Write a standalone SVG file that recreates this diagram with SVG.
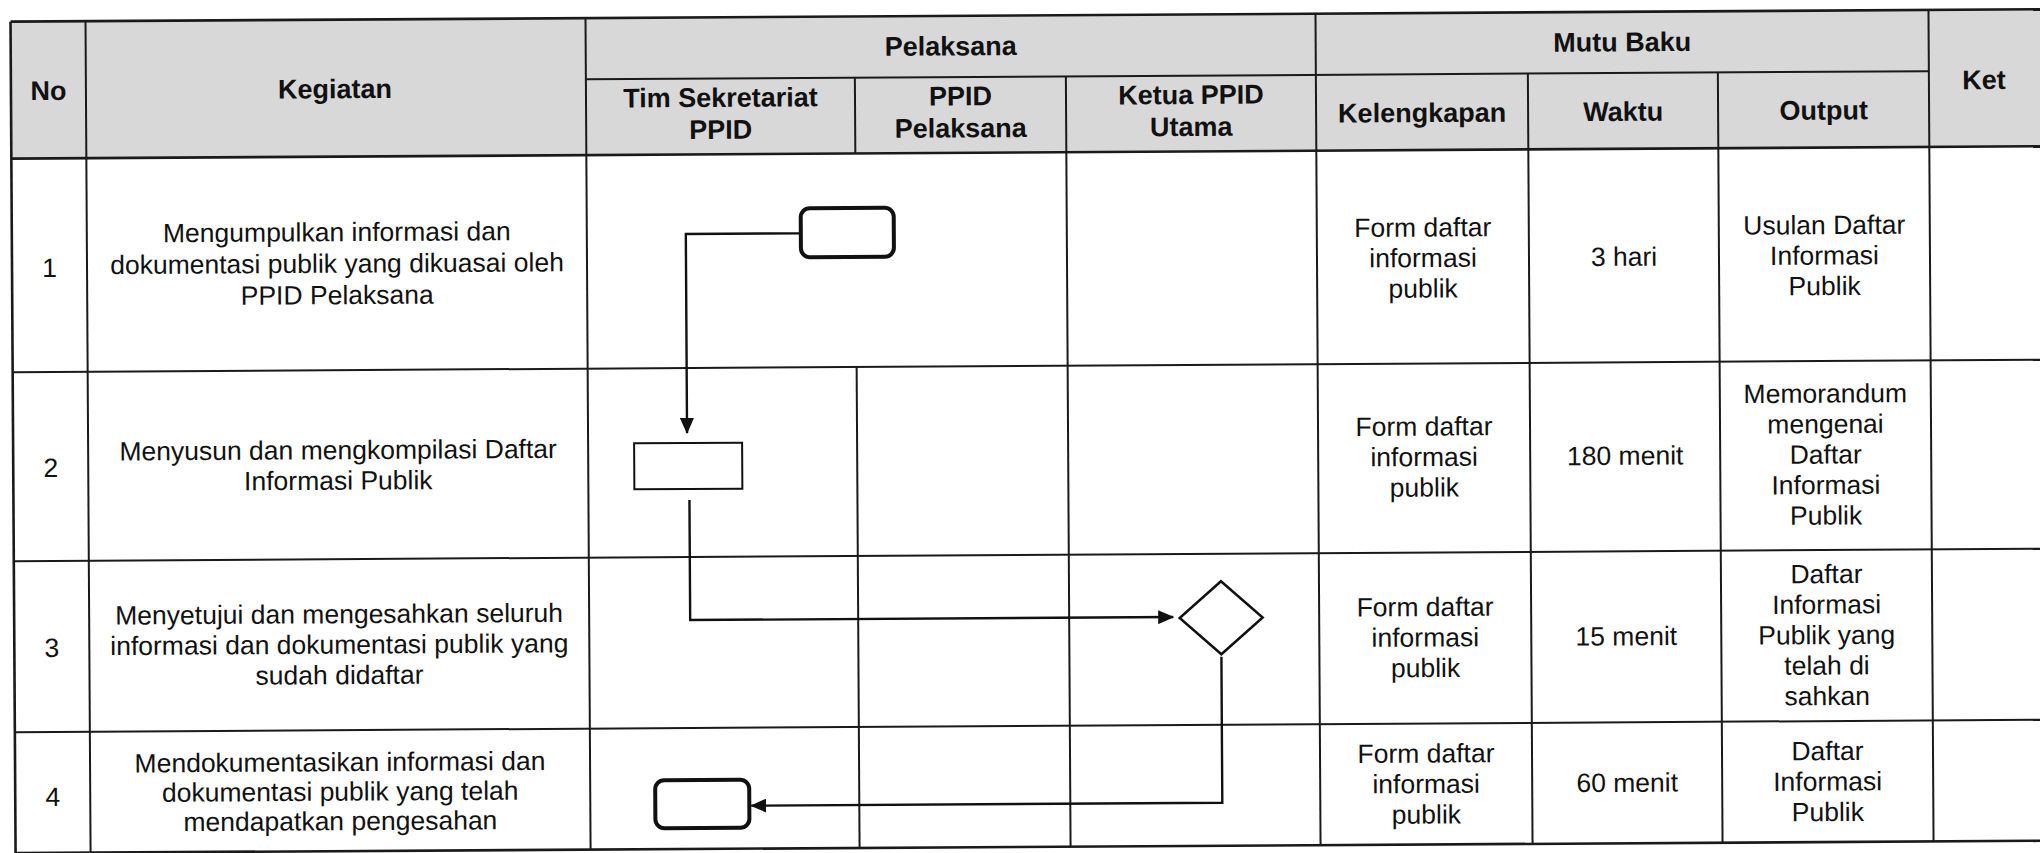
<svg xmlns="http://www.w3.org/2000/svg" width="2040" height="853" viewBox="0 0 2040 853">
<style>
.h{font-family:"Liberation Sans",Arial,sans-serif;font-weight:bold;font-size:27px;text-anchor:middle;fill:#111}
.t{font-family:"Liberation Sans",Arial,sans-serif;font-size:26.5px;text-anchor:middle;fill:#111}
.ln{stroke:#1a1a1a;stroke-width:2;fill:none}
.bd{stroke:#1a1a1a;stroke-width:2.6;fill:none}
.term{fill:#fff;stroke:#111;stroke-width:4}
.proc{fill:#fff;stroke:#111;stroke-width:2}
.dec{fill:#fff;stroke:#111;stroke-width:2.5}
.conn{stroke:#111;stroke-width:2.4;fill:none}
</style>
<defs>
<marker id="arr" viewBox="0 0 16 14" refX="15" refY="7" markerWidth="16" markerHeight="14" markerUnits="userSpaceOnUse" orient="auto">
<path d="M0,0 L16,7 L0,14 z" fill="#111"/>
</marker>
</defs>
<rect x="0" y="0" width="2040" height="853" fill="#fff"/>
<g transform="rotate(-0.35 1020 426)">
<g id="table">
<rect x="13" y="15.5" width="2040" height="137" fill="#d8d8d8"/>
<line class="bd" x1="13" y1="15.5" x2="2052" y2="15.5"/>
<line class="ln" x1="588" y1="76.7" x2="1931" y2="76.7"/>
<line class="bd" x1="13" y1="152.5" x2="2052" y2="152.5"/>
<line class="ln" x1="13" y1="366" x2="2052" y2="366"/>
<line class="ln" x1="13" y1="555" x2="2052" y2="555"/>
<line class="ln" x1="13" y1="726" x2="2052" y2="726"/>
<line class="bd" x1="13" y1="847" x2="2052" y2="847"/>
<line class="bd" x1="13" y1="15.5" x2="13" y2="847"/>
<line class="ln" x1="88" y1="15.5" x2="88" y2="847"/>
<line class="ln" x1="588" y1="15.5" x2="588" y2="847"/>
<line class="ln" x1="857" y1="76.7" x2="857" y2="152.5"/>
<line class="ln" x1="857" y1="366" x2="857" y2="847"/>
<line class="ln" x1="1068" y1="76.7" x2="1068" y2="847"/>
<line class="ln" x1="1318" y1="15.5" x2="1318" y2="847"/>
<line class="ln" x1="1530" y1="76.7" x2="1530" y2="847"/>
<line class="ln" x1="1720" y1="76.7" x2="1720" y2="847"/>
<line class="ln" x1="1931" y1="15.5" x2="1931" y2="847"/>
</g>
<g id="headers">
<text class="h" x="50.5" y="94">No</text>
<text class="h" x="337" y="94">Kegiatan</text>
<text class="h" x="953" y="55">Pelaksana</text>
<text class="h" x="1624.5" y="55">Mutu Baku</text>
<text class="h" x="1986" y="95">Ket</text>
<text class="h"><tspan x="722.5" y="105">Tim Sekretariat</tspan><tspan x="722.5" y="137">PPID</tspan></text>
<text class="h"><tspan x="962.5" y="105">PPID</tspan><tspan x="962.5" y="137">Pelaksana</tspan></text>
<text class="h"><tspan x="1193" y="105">Ketua PPID</tspan><tspan x="1193" y="137">Utama</tspan></text>
<text class="h" x="1424" y="124.5">Kelengkapan</text>
<text class="h" x="1625" y="124.5">Waktu</text>
<text class="h" x="1825.5" y="124.5">Output</text>
</g>
<g id="row1">
<text class="t" x="50.5" y="271">1</text>
<text class="t"><tspan x="338" y="237">Mengumpulkan informasi dan</tspan><tspan x="338" y="268.5">dokumentasi publik yang dikuasai oleh</tspan><tspan x="338" y="300">PPID Pelaksana</tspan></text>
<text class="t"><tspan x="1424" y="239">Form daftar</tspan><tspan x="1424" y="269.5">informasi</tspan><tspan x="1424" y="300">publik</tspan></text>
<text class="t" x="1625" y="269.5">3 hari</text>
<text class="t"><tspan x="1825.5" y="239">Usulan Daftar</tspan><tspan x="1825.5" y="269.5">Informasi</tspan><tspan x="1825.5" y="300">Publik</tspan></text>
</g>
<g id="row2">
<text class="t" x="50.5" y="471">2</text>
<text class="t"><tspan x="338" y="455">Menyusun dan mengkompilasi Daftar</tspan><tspan x="338" y="485.5">Informasi Publik</tspan></text>
<text class="t"><tspan x="1424" y="438">Form daftar</tspan><tspan x="1424" y="468.5">informasi</tspan><tspan x="1424" y="499">publik</tspan></text>
<text class="t" x="1625" y="468.5">180 menit</text>
<text class="t"><tspan x="1825.5" y="407.5">Memorandum</tspan><tspan x="1825.5" y="438">mengenai</tspan><tspan x="1825.5" y="468.5">Daftar</tspan><tspan x="1825.5" y="499">Informasi</tspan><tspan x="1825.5" y="529.5">Publik</tspan></text>
</g>
<g id="row3">
<text class="t" x="50.5" y="651">3</text>
<text class="t"><tspan x="338" y="619">Menyetujui dan mengesahkan seluruh</tspan><tspan x="338" y="649.5">informasi dan dokumentasi publik yang</tspan><tspan x="338" y="680">sudah didaftar</tspan></text>
<text class="t"><tspan x="1424" y="618.5">Form daftar</tspan><tspan x="1424" y="649">informasi</tspan><tspan x="1424" y="679.5">publik</tspan></text>
<text class="t" x="1625" y="649">15 menit</text>
<text class="t"><tspan x="1825.5" y="588">Daftar</tspan><tspan x="1825.5" y="618.5">Informasi</tspan><tspan x="1825.5" y="649">Publik yang</tspan><tspan x="1825.5" y="679.5">telah di</tspan><tspan x="1825.5" y="710">sahkan</tspan></text>
</g>
<g id="row4">
<text class="t" x="50.5" y="800">4</text>
<text class="t"><tspan x="338" y="767">Mendokumentasikan informasi dan</tspan><tspan x="338" y="796.5">dokumentasi publik yang telah</tspan><tspan x="338" y="826">mendapatkan pengesahan</tspan></text>
<text class="t"><tspan x="1424" y="765">Form daftar</tspan><tspan x="1424" y="795.5">informasi</tspan><tspan x="1424" y="826">publik</tspan></text>
<text class="t" x="1625" y="795.5">60 menit</text>
<text class="t"><tspan x="1825.5" y="765">Daftar</tspan><tspan x="1825.5" y="795.5">Informasi</tspan><tspan x="1825.5" y="826">Publik</tspan></text>
</g>
<g id="connectors">
<path class="conn" d="M802,232 H687 V431" marker-end="url(#arr)"/>
<path class="conn" d="M689,498 V618 H1172" marker-end="url(#arr)"/>
<path class="conn" d="M1220,658 V804 H749" marker-end="url(#arr)"/>
</g>
<g id="node-start"><rect class="term" x="802" y="207" width="93" height="49" rx="9"/></g>
<g id="node-process"><rect class="proc" x="634" y="441" width="108" height="46"/></g>
<g id="node-decision"><polygon class="dec" points="1220,582.5 1261.5,619 1220,655.5 1178.5,619"/></g>
<g id="node-end"><rect class="term" x="653" y="778" width="94" height="48" rx="9"/></g>
</g>
</svg>
